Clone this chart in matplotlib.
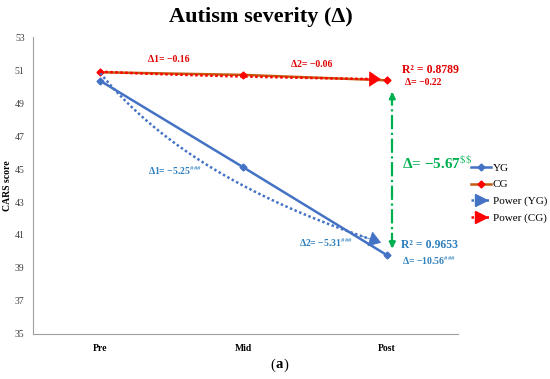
import matplotlib
matplotlib.use("Agg")
import matplotlib.pyplot as plt
import numpy as np

# data
phases = ["Pre", "Mid", "Post"]
yg_scores = [50.35, 45.10, 39.79]
cg_scores = [50.87, 50.71, 50.38]
yticks = list(range(35, 54, 2))

BLUE = "#4472C4"
BLUE_TXT = "#2E80BE"
RED = "#FF0000"
RED_TXT = "#E00000"
ORANGE = "#C55A11"
GREEN = "#00B050"

plt.rcParams["font.family"] = ["Liberation Serif", "DejaVu Serif"]
plt.rcParams["mathtext.fontset"] = "stix"


def power_fit(vals):
    # excel-style power trend: ln y = ln a + b ln x, x = 1..n
    xs = np.arange(1, len(vals) + 1)
    b, lna = np.polyfit(np.log(xs), np.log(vals), 1)
    xf = np.linspace(1, len(vals) - 0.02, 60)
    return xf - 1, np.exp(lna) * xf ** b


fig = plt.figure(figsize=(5.5, 3.79), dpi=100)
ax = fig.add_axes([0.06, 0.119, 0.773, 0.783])

x = np.arange(len(phases))
ax.plot(x, yg_scores, color=BLUE, lw=1.8, marker="D", ms=3.5, label="YG", zorder=3)
ax.plot(x, cg_scores, color=ORANGE, lw=1.8, marker="D", ms=3.5,
        mfc=RED, mec=RED, label="CG", zorder=3)

for vals, col, lab in [(yg_scores, BLUE, "Power (YG)"), (cg_scores, RED, "Power (CG)")]:
    tx, ty = power_fit(vals)
    ax.plot(tx[:-3], ty[:-3], color=col, lw=1.8, ls=(0, (1, 1)), zorder=4)
    ax.annotate("", xy=(tx[-1], ty[-1]), xytext=(tx[-6], ty[-6]),
                arrowprops=dict(arrowstyle="-|>,head_length=0.6,head_width=0.4",
                                color=col, lw=0.5, mutation_scale=13), zorder=4)
    ax.plot([], [], color=col, lw=1.8, ls=(0, (1, 1)), marker=">", ms=9,
            markevery=[1], label=lab)

# green difference arrow between groups at post
ax.plot([2.04, 2.04], [40.3, 49.6], color=GREEN, lw=1.6, ls="-.", zorder=2)
ax.annotate("", xy=(2.04, 49.85), xytext=(2.04, 49.2),
            arrowprops=dict(arrowstyle="-|>", color=GREEN, lw=1.6, mutation_scale=9))
ax.annotate("", xy=(2.04, 40.0), xytext=(2.04, 40.7),
            arrowprops=dict(arrowstyle="-|>", color=GREEN, lw=1.6, mutation_scale=9))

tkw = dict(fontweight="bold")
ax.text(0.48, 51.65, "Δ1= −0.16", color=RED_TXT, fontsize=7, ha="center", va="center", **tkw)
ax.text(1.48, 51.35, "Δ2= −0.06", color=RED_TXT, fontsize=7, ha="center", va="center", **tkw)
ax.text(2.11, 51.0, "R² = 0.8789", color=RED_TXT, fontsize=8.5, ha="left", va="center", **tkw)
ax.text(2.13, 50.27, "Δ= −0.22", color=RED_TXT, fontsize=7, ha="left", va="center", **tkw)

ax.text(0.52, 44.9, r"Δ1= −5.25$^{\#\#\#}$", color=BLUE_TXT, fontsize=7,
        ha="center", va="center", **tkw)
ax.text(1.58, 40.55, r"Δ2= −5.31$^{\#\#\#}$", color=BLUE_TXT, fontsize=7,
        ha="center", va="center", **tkw)
ax.text(2.1, 40.4, "R² = 0.9653", color=BLUE_TXT, fontsize=8.5, ha="left", va="center", **tkw)
ax.text(2.11, 39.45, r"Δ= −10.56$^{\#\#\#}$", color=BLUE_TXT, fontsize=7,
        ha="left", va="center", **tkw)
ax.text(2.11, 45.4, r"Δ= −5.67$^{\$\$}$", color=GREEN, fontsize=11,
        ha="left", va="center", **tkw)

ax.set_xlim(-0.47, 2.5)
ax.set_ylim(35, 53)
ax.set_xticks(x)
ax.set_xticklabels(phases, fontsize=7, fontweight="bold")
ax.set_yticks(yticks)
ax.tick_params(axis="y", labelsize=7, length=0, pad=6, labelcolor="#404040")
ax.tick_params(axis="x", length=0, pad=7)
for s in ["top", "right"]:
    ax.spines[s].set_visible(False)
for s in ["left", "bottom"]:
    ax.spines[s].set_color("#A0A0A0")
ax.set_ylabel("CARS score", fontsize=7, fontweight="bold", labelpad=2)

ax.legend(loc="upper left", bbox_to_anchor=(1.03, 0.575), frameon=False,
          fontsize=8, handlelength=1.8, handletextpad=0.15, labelspacing=0.6,
          borderaxespad=0.0, borderpad=0.0)

fig.text(0.475, 0.955, "Autism severity (Δ)", fontsize=16, fontweight="bold",
         ha="center", va="center")
fig.text(0.5, 0.037, "(", fontsize=10.5, ha="right", va="center")
fig.text(0.5, 0.037, "a", fontsize=10.5, fontweight="bold", ha="left", va="center")
fig.text(0.5155, 0.037, ")", fontsize=10.5, ha="left", va="center")

fig.savefig("out.png", dpi=100)
